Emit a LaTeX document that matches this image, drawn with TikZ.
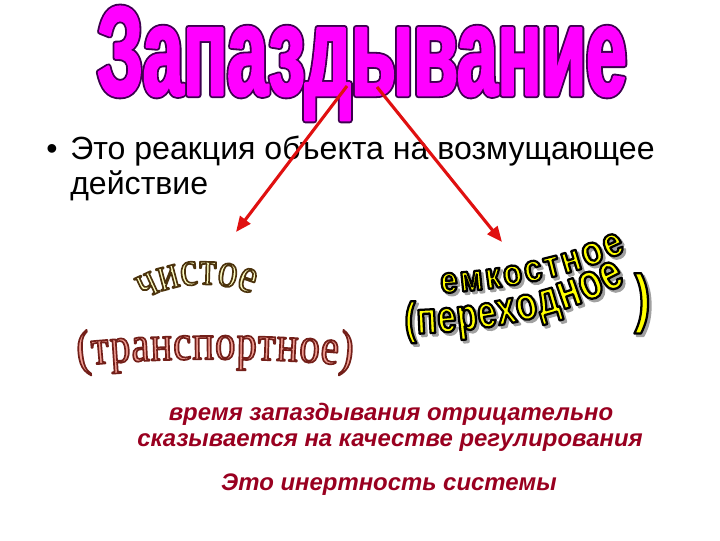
\documentclass[tikz,border=0pt]{standalone}
\usepackage{fontspec}
\setmainfont{Liberation Sans}
\newfontface\titlefont[FakeStretch=0.575]{Liberation Sans Bold}
\newfontface\serifart[FakeStretch=0.8]{Liberation Serif}
\newfontface\sansart[FakeStretch=0.85]{Liberation Sans Bold}
\newfontface\sansnarrow[FakeStretch=0.75]{Liberation Sans Bold}
\newfontface\noteface{Liberation Sans Bold Italic}
\usetikzlibrary{arrows.meta,decorations.text}

\begin{document}
\begin{tikzpicture}[x=0.025cm,y=-0.025cm]

\definecolor{tcolor}{HTML}{FF00FF}
\definecolor{ocolor}{HTML}{3C0050}
\definecolor{acolor}{HTML}{E01010}
\definecolor{ncolor}{HTML}{990020}
\definecolor{ycolor}{HTML}{FFFF00}
\definecolor{lcolor}{HTML}{FFFFC4}
\definecolor{pcolor}{HTML}{F2A095}
\definecolor{scolor}{HTML}{A0A0A0}

\tikzstyle{titletext}=[anchor=base, inner sep=0pt, font=\titlefont\fontsize{90}{90}\selectfont]
\tikzstyle{arrow}=[line width=2.2pt, color=acolor, -{Triangle[length=11pt,width=9pt]}]
\tikzstyle{bodytext}=[anchor=base west, inner sep=0pt, align=left, font=\fontsize{22.8}{24.8}\selectfont]
\tikzstyle{notetext}=[anchor=base, inner sep=0pt, color=ncolor, font=\noteface\fontsize{17}{20}\selectfont]

\fill[white] (0,0) rectangle (720,540);
\useasboundingbox (0,0) rectangle (720,540);

% outlined glyphs: stroke colour, stroke width
\def\outl#1#2{\special{pdf:literal direct #1 RG 2 Tr #2 w 1 j}}

% word art along a path
\def\arcword#1#2{
\path[decorate, decoration={text along path, text={#2}, text align=fit to path}] #1;
}

% title
\node[titletext] (title) at (362,95) {\rlap{\color{ocolor}\outl{0.24 0 0.31}{4.4}Запаздывание}\color{tcolor}\outl{1 0 1}{1.8}Запаздывание};

% definition
\node[bodytext] (dot) at (46,159) {•};
\node[bodytext] (definition) at (70,194) {Это реакция объекта на возмущающее\\действие};

% notes
\node[notetext] (note1) at (391,420) {время запаздывания отрицательно};
\node[notetext] (note2) at (390,446) {сказывается на качестве регулирования};
\node[notetext] (note3) at (389,490) {Это инертность системы};

% arrows
\coordinate (ltail) at (347,86);
\coordinate (lhead) at (236,232);
\coordinate (rtail) at (377,87);
\coordinate (rhead) at (502,242);
\draw[arrow] (ltail) -- (lhead);
\draw[arrow] (rtail) -- (rhead);

% left: pure delay
\def\wafmt{\color{lcolor}\outl{0.3 0.2 0.05}{1.2}}
\arcword{(143,300) .. controls (174,282) and (216,279) .. (252,294)}{|\serifart\fontsize{35}{35}\selectfont\wafmt|чистое}
\def\wafmt{\color{pcolor}\outl{0.45 0.12 0.1}{1.2}}
\arcword{(78,366) .. controls (160,357) and (270,357) .. (352,366)}{|\serifart\fontsize{36}{36}\selectfont\wafmt|(транспортное)}

% right: capacity delay, shadow first
\def\wafmt{\color{scolor}\outl{0.63 0.63 0.63}{1.6}}
\begin{scope}[shift={(2.5,2.5)}]
\arcword{(441,293) .. controls (500,290) and (572,278) .. (626,251)}{|\sansart\fontsize{26}{26}\selectfont\wafmt|емко|\sansart\fontsize{27}{27}\selectfont\wafmt|стн|\sansart\fontsize{29}{29}\selectfont\wafmt|ое}
\arcword{(405,334) .. controls (480,333) and (562,318) .. (626,283)}{|\sansnarrow\fontsize{32}{32}\selectfont\wafmt|(пере|\sansnarrow\fontsize{33}{33}\selectfont\wafmt|ход|\sansnarrow\fontsize{36}{36}\selectfont\wafmt|ное}
\node[anchor=base west, inner sep=0pt, font=\sansnarrow\fontsize{46}{46}\selectfont] (rparshadow) at (634,320) {\wafmt)};
\end{scope}
\def\wafmt{\color{ycolor}\outl{0 0 0}{1.6}}
\arcword{(441,293) .. controls (500,290) and (572,278) .. (626,251)}{|\sansart\fontsize{26}{26}\selectfont\wafmt|емко|\sansart\fontsize{27}{27}\selectfont\wafmt|стн|\sansart\fontsize{29}{29}\selectfont\wafmt|ое}
\arcword{(405,334) .. controls (480,333) and (562,318) .. (626,283)}{|\sansnarrow\fontsize{32}{32}\selectfont\wafmt|(пере|\sansnarrow\fontsize{33}{33}\selectfont\wafmt|ход|\sansnarrow\fontsize{36}{36}\selectfont\wafmt|ное}
\node[anchor=base west, inner sep=0pt, font=\sansnarrow\fontsize{46}{46}\selectfont] (rparen) at (634,320) {\wafmt)};

\end{tikzpicture}
\end{document}
